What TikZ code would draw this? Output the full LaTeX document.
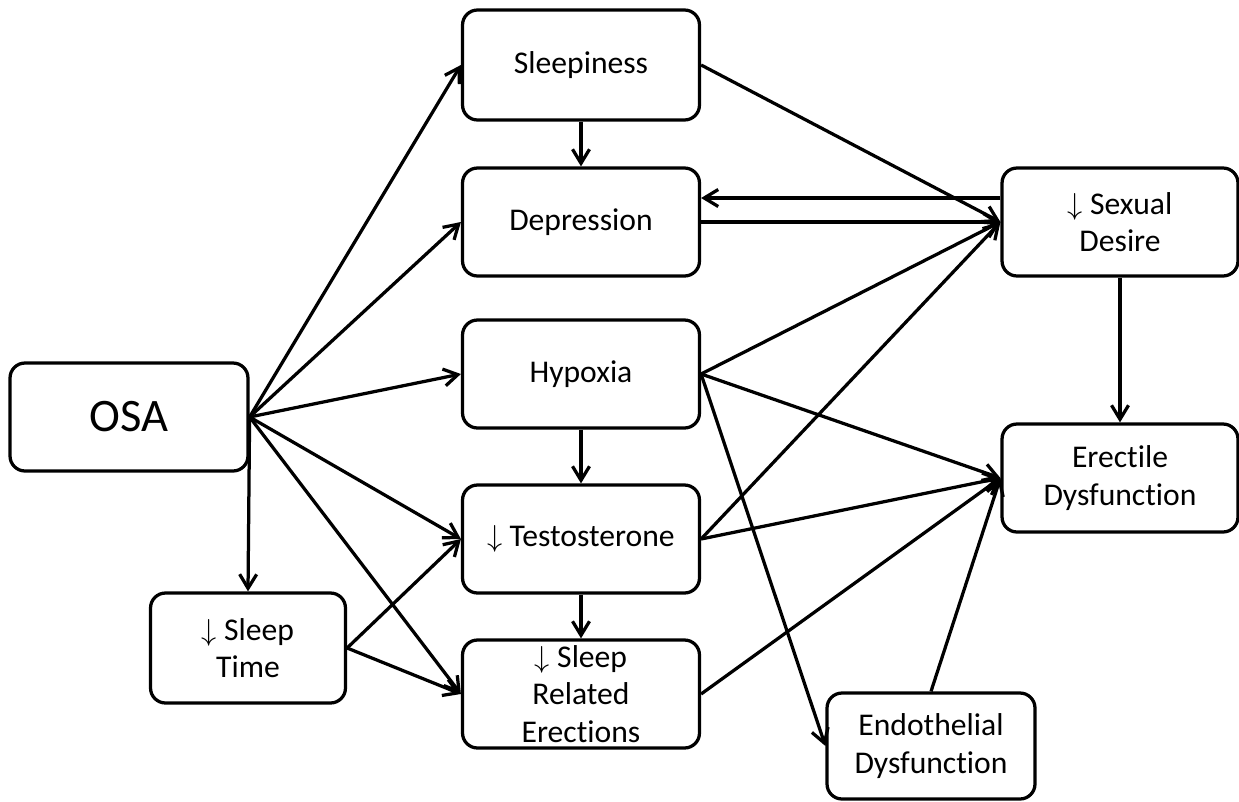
\documentclass[tikz,border=0pt]{standalone}
\usepackage{fontspec}
\setmainfont[Ligatures=NoCommon]{Carlito}
\usepackage{tikz}
\usetikzlibrary{arrows.meta}
\tikzset{
  box/.style  = {rectangle, rounded corners=0.3cm, draw=black, line width=0.065cm,
                 fill=white, align=center, inner sep=0pt,
                 minimum width=4.74cm, minimum height=2.16cm,
                 font=\fontsize{18}{21.3}\selectfont},
  flow/.style = {-{Straight Barb[length=2.8mm,width=3.4mm,line width=0.065cm]},
                 line width=0.065cm, black},
}
\newcommand{\dn}{$\downarrow$ }

\begin{document}
\begin{tikzpicture}[x=0.02cm, y=-0.02cm]
      \useasboundingbox (0,0) rectangle (1239,801);

      \node[box, minimum width=4.76cm, font=\fontsize{26.5}{30}\selectfont] (osa) at (129,417) {OSA};
      \node[box, minimum width=3.9cm, minimum height=2.2cm] (stime) at (248,648) {\dn Sleep\\Time};

      \node[box, minimum height=2.2cm] (sleepy) at (581,65)  {Sleepiness};
      \node[box] (depr)   at (581,222) {Depression};
      \node[box] (hypox)  at (581,374) {Hypoxia};
      \node[box] (testo)  at (581,539) {\dn Testosterone};
      \node[box] (sre)    at (581,694) {\dn Sleep\\Related\\Erections};

      \node[box, minimum width=4.72cm] (desire) at (1120,222) {\dn Sexual\\Desire};
      \node[box, minimum width=4.72cm] (ed)     at (1120,478) {Erectile\\Dysfunction};
      \node[box, minimum width=4.16cm, minimum height=2.12cm] (endo) at (931,746) {Endothelial\\Dysfunction};

      % from OSA
      \draw[flow] (osa.east) -- (sleepy.west);
      \draw[flow] (osa.east) -- (depr.west);
      \draw[flow] (osa.east) -- (hypox.west);
      \draw[flow] (osa.east) -- (testo.west);
      \draw[flow] (osa.east) -- (sre.west);
      \draw[flow] (osa.east) -- (stime.north);

      % sleep time
      \draw[flow] (stime.east) -- (testo.west);
      \draw[flow] (stime.east) -- (sre.west);

      % middle column
      \draw[flow] (sleepy) -- (depr);
      \draw[flow] (hypox) -- (testo);
      \draw[flow] (testo) -- (sre);

      % to sexual desire
      \draw[flow] (sleepy.east) -- (desire.west);
      \draw[flow] (depr.east) -- (desire.west);
      \draw[flow] ([yshift=0.48cm]desire.west) -- ([yshift=0.48cm]depr.east);
      \draw[flow] (hypox.east) -- (desire.west);
      \draw[flow] (testo.east) -- (desire.west);

      % to erectile dysfunction
      \draw[flow] (desire) -- (ed);
      \draw[flow] (hypox.east) -- (ed.west);
      \draw[flow] (testo.east) -- (ed.west);
      \draw[flow] (sre.east) -- (ed.west);
      \draw[flow] (endo.north) -- (ed.west);
      \draw[flow] (hypox.east) -- (endo.west);

    \end{tikzpicture}
\end{document}
